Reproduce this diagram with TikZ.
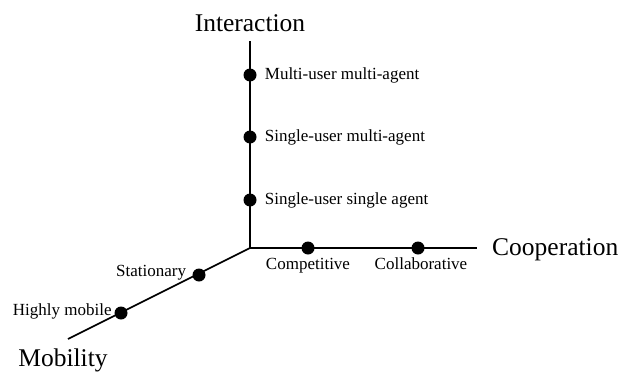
\documentclass[tikz,border=0pt]{standalone}
\usepackage{fontspec}
\setmainfont{Liberation Serif}
\usetikzlibrary{calc,positioning}

\begin{document}
\begin{tikzpicture}[x=1pt,y=-1pt,
  dot/.style={circle,fill=black,inner sep=0pt,minimum size=13pt},
  small/.style={font=\fontsize{17}{20}\selectfont,inner sep=0pt},
  big/.style={font=\fontsize{25.5}{30}\selectfont,inner sep=0pt}]
\useasboundingbox (0,0) rectangle (618,372);
\newcommand{\axisdot}[4]{\node[dot] (#1) at (#2) {}; \node[small,#3] (#1-lab) {#4};}
% axes
\coordinate (o) at (250,248);
\coordinate (iend) at (250,41);
\coordinate (cend) at (477,248);
\coordinate (mend) at (68,339);
\draw[line width=2pt] (o) -- (iend);
\draw[line width=1.6pt] (o) -- (cend);
\draw[line width=1.6pt] (o) -- (mend);
\node[big,above=9pt of iend] (inter) {Interaction};
\node[big,right=15pt of cend,yshift=-2pt] (coop) {Cooperation};
\node[big,below=10pt of mend,xshift=-5pt] (mob) {Mobility};
% points on the axes
\axisdot{mm}{250,75}{right=8pt of mm}{Multi-user multi-agent}
\axisdot{sm}{250,137}{right=8pt of sm}{Single-user multi-agent}
\axisdot{ss}{250,200}{right=8pt of ss}{Single-user single agent}
\axisdot{comp}{308,248}{below=3pt of comp}{Competitive}
\axisdot{coll}{418,248}{below=3pt of coll,xshift=3pt}{Collaborative}
\axisdot{stat}{199,275}{left=6pt of stat,yshift=2pt}{Stationary}
\axisdot{hmob}{121,313}{left=2.5pt of hmob,yshift=2pt}{Highly mobile}
\end{tikzpicture}
\end{document}
